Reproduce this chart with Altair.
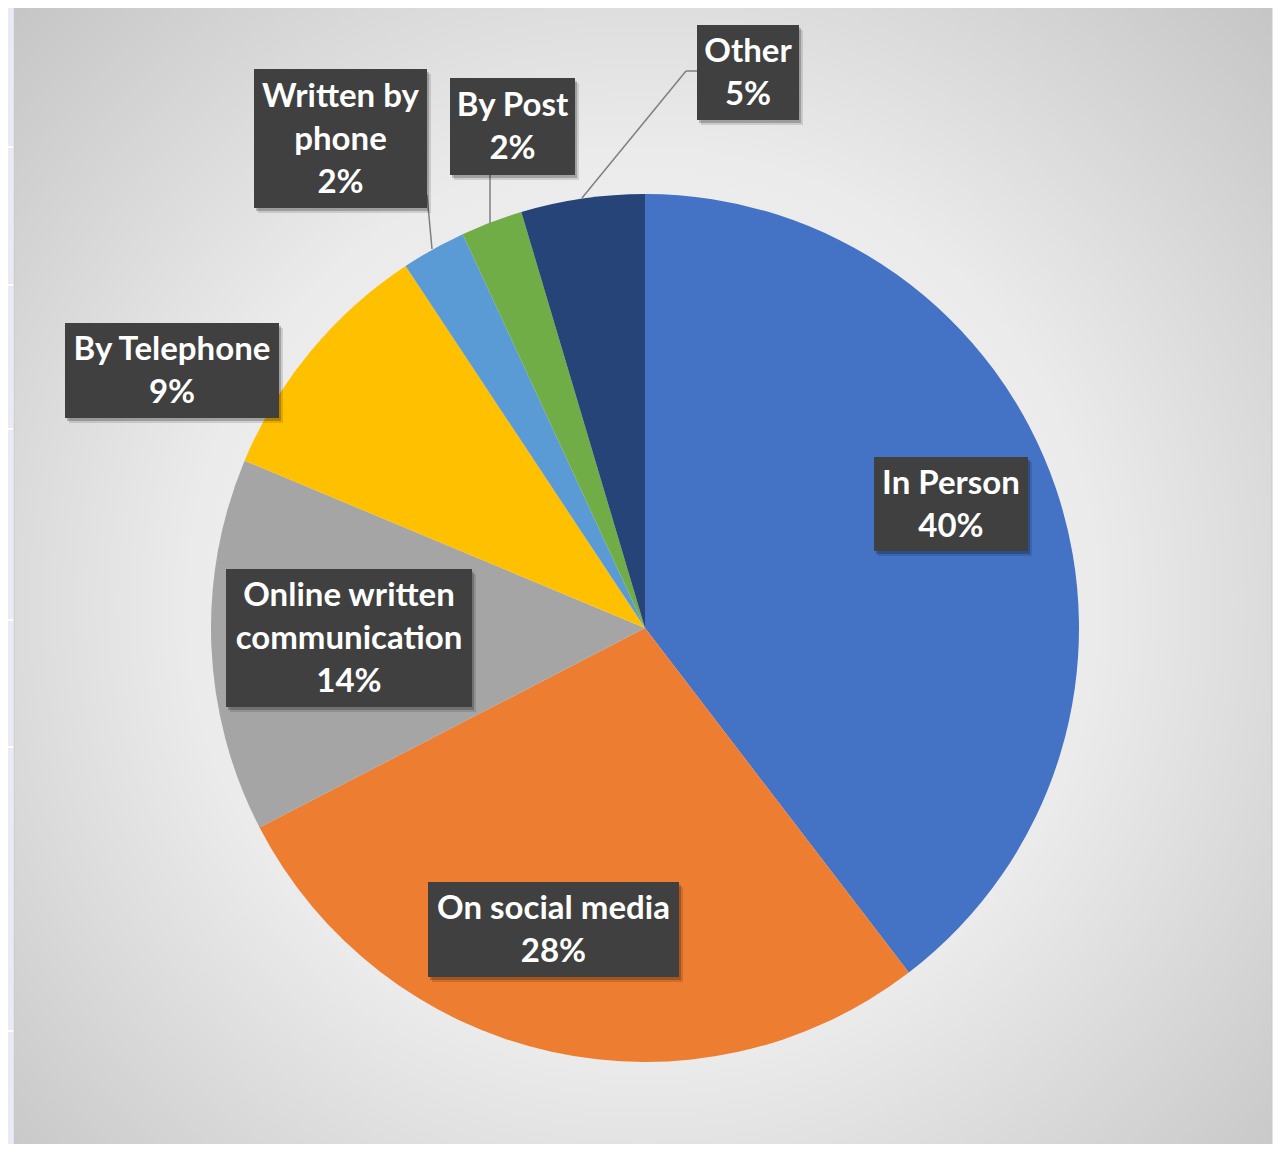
import altair as alt
import pandas as pd

# ---------------- data ----------------
CATEGORIES = ["In Person", "On social media", "Online written communication",
              "By Telephone", "Written by phone", "By Post", "Other"]
LABEL_NAMES = ["In Person", "On social media", "Online written\ncommunication",
               "By Telephone", "Written by\nphone", "By Post", "Other"]
VALUES = [39.6, 27.8, 13.9, 9.4, 2.4, 2.3, 4.6]
COLORS = ["#4472C4", "#ED7D31", "#A5A5A5", "#FFC000", "#5B9BD5", "#70AD47", "#264478"]

# ---------------- layout (page pixels; page margin is 8px) ----------------
OFF = 8
W, H = 1265, 1136          # keep inside the viewport (no scrollbars)
CX, CY, R = 645 - OFF, 628 - OFF, 434
LINE_H = 43
# label boxes: left, right, top, bottom (page px)
BOXES = [(874, 1028, 457, 551), (428, 679, 882, 977), (226, 472, 569, 707),
         (65, 279, 323, 418), (254, 427, 69, 208), (450, 575, 78, 175),
         (697, 799, 25, 120)]
# leader line segments (page px): x, y, x2, y2
LEADERS = [(427, 195, 432, 249), (490, 175, 490, 223),
           (697, 71, 686, 71), (686, 71, 582, 198)]
STRIP_SEP_Y = [147, 285, 429, 620, 747, 1031]

total = sum(VALUES)
df = pd.DataFrame({
    "idx": list(range(len(CATEGORIES))),
    "category": CATEGORIES,
    "value": VALUES,
})

texts_full = [f"{n}\n{round(v / total * 100):d}%" for n, v in zip(LABEL_NAMES, VALUES)]
lab = pd.DataFrame({
    "category": CATEGORIES,
    "text": texts_full,
    "x1": [b[0] - OFF for b in BOXES],
    "x2": [b[1] - OFF for b in BOXES],
    "y1": [b[2] - OFF for b in BOXES],
    "y2": [b[3] - OFF for b in BOXES],
})
nlines = [t.count("\n") + 1 for t in texts_full]
lab["xc"] = (lab["x1"] + lab["x2"]) / 2
lab["yc"] = (lab["y1"] + lab["y2"]) / 2 + 1 - pd.Series(nlines).sub(1) * LINE_H / 2
for k in (1, 2):
    lab[f"sx{k}"] = lab[f"x{k}"] + 4
    lab[f"sy{k}"] = lab[f"y{k}"] + 5
    lab[f"tx{k}"] = lab[f"x{k}"] + 2
    lab[f"ty{k}"] = lab[f"y{k}"] + 3

lead = pd.DataFrame([(a - OFF, b - OFF, c - OFF, d - OFF) for a, b, c, d in LEADERS],
                    columns=["x", "y", "x2", "y2"])

one = pd.DataFrame({"a": [0]})


def X(f):
    return alt.X(f, type="quantitative", scale=None, axis=None)


def Y(f):
    return alt.Y(f, type="quantitative", scale=None, axis=None)


# background gradient
bg = alt.Chart(one).mark_rect(
    fill=alt.RadialGradient(
        gradient="radial",
        stops=[alt.GradientStop(color="#f7f7f7", offset=0),
               alt.GradientStop(color="#ebebeb", offset=0.5),
               alt.GradientStop(color="#c2c2c2", offset=1)],
        x1=0.5, y1=0.52, r1=0, x2=0.5, y2=0.52, r2=0.72),
    stroke="#c8c8c8", strokeWidth=1,
).encode(x=alt.value(14 - OFF), x2=alt.value(W - 1), y=alt.value(-2), y2=alt.value(H + 10))

strip = alt.Chart(one).mark_rect(color="#e8eaf6").encode(
    x=alt.value(0), x2=alt.value(13 - OFF), y=alt.value(0), y2=alt.value(H))

strip_sep = alt.Chart(pd.DataFrame({"y": [v - OFF for v in STRIP_SEP_Y]})).mark_rule(
    color="white", strokeWidth=2).encode(x=alt.value(0), x2=alt.value(13 - OFF), y=Y("y"))

pie = alt.Chart(df).mark_arc(outerRadius=R).encode(
    theta=alt.Theta("value:Q", stack=True),
    color=alt.Color("category:N", scale=alt.Scale(domain=CATEGORIES, range=COLORS), legend=None),
    order=alt.Order("idx:Q"),
    x=alt.value(CX), y=alt.value(CY),
)

leaders = alt.Chart(lead).mark_rule(color="#7f7f7f", strokeWidth=1.5).encode(
    x=X("x"), y=Y("y"), x2="x2:Q", y2="y2:Q")

shadow_soft = alt.Chart(lab).mark_rect(color="#000000", opacity=0.12).encode(
    x=X("sx1"), x2="sx2:Q", y=Y("sy1"), y2="sy2:Q")

shadow = alt.Chart(lab).mark_rect(color="#000000", opacity=0.22).encode(
    x=X("tx1"), x2="tx2:Q", y=Y("ty1"), y2="ty2:Q")

boxes = alt.Chart(lab).mark_rect(color="#404040").encode(
    x=X("x1"), x2="x2:Q", y=Y("y1"), y2="y2:Q")

texts = alt.Chart(lab).mark_text(
    font="Lato", fontWeight="bold", fontSize=33, color="white",
    lineBreak="\n", lineHeight=LINE_H, align="center", baseline="middle",
).encode(x=X("xc"), y=Y("yc"), text="text:N")

chart = alt.layer(bg, strip, strip_sep, pie, leaders, shadow_soft, shadow, boxes, texts).properties(
    width=W, height=H, padding=0, autosize=alt.AutoSizeParams(type="none"),
    background="white",
).configure_view(stroke=None)

chart.save("out.html", embed_options={"renderer": "svg", "actions": False})
